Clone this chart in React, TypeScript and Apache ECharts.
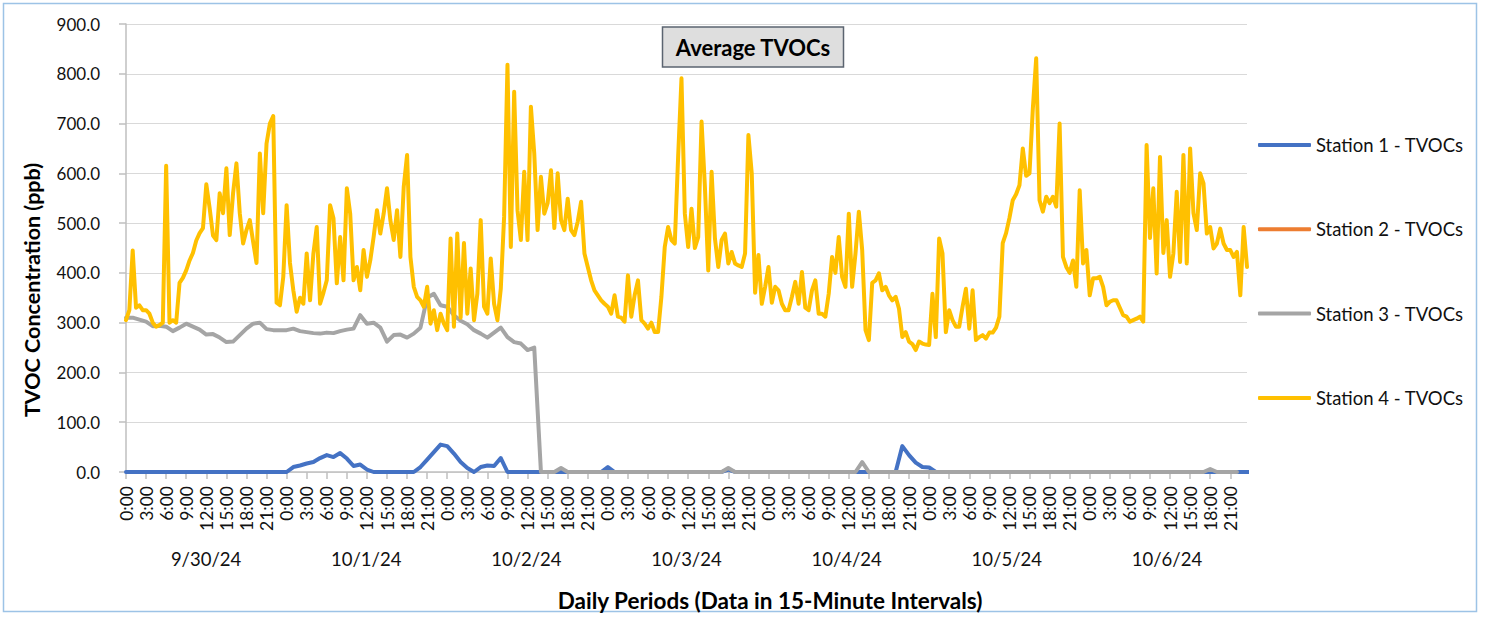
import React, { useEffect, useRef } from "react";
import * as echarts from "echarts";

// Date groups (one per day)
const dates = ["9/30/24", "10/1/24", "10/2/24", "10/3/24", "10/4/24", "10/5/24", "10/6/24"];
const seriesNames = ["Station 1 - TVOCs", "Station 2 - TVOCs", "Station 3 - TVOCs", "Station 4 - TVOCs"];
const colors = ["#4472C4", "#ED7D31", "#A5A5A5", "#FFC000"];

// Station 4 (half-hourly readings, ppb) — 48 per day
const s4d1 = [305, 325, 445, 330, 335, 325, 325, 318, 300, 292, 295, 300, 615, 300, 305, 300, 380, 390, 405, 425, 440, 465, 480, 490, 578, 530, 475, 466, 560, 520, 610, 476, 560, 620, 520, 459, 486, 506, 462, 420, 640, 520, 660, 700, 715, 340, 335, 392];
const s4d2 = [536, 420, 365, 322, 350, 338, 439, 345, 439, 492, 338, 360, 385, 536, 510, 379, 472, 385, 570, 519, 385, 412, 365, 446, 392, 425, 472, 526, 479, 519, 570, 506, 466, 526, 432, 573, 637, 432, 372, 352, 345, 332, 372, 298, 325, 285, 318, 298];
const s4d3 = [285, 469, 292, 479, 310, 460, 318, 409, 305, 358, 506, 332, 318, 429, 338, 305, 368, 513, 818, 452, 764, 526, 466, 603, 466, 734, 640, 486, 593, 519, 540, 606, 490, 600, 506, 486, 549, 486, 476, 503, 543, 439, 412, 385, 365, 355, 345, 338];
const s4d4 = [332, 318, 355, 312, 310, 302, 395, 312, 355, 385, 305, 298, 288, 300, 281, 281, 352, 452, 492, 466, 459, 633, 791, 519, 452, 529, 450, 472, 704, 573, 405, 603, 469, 412, 466, 479, 419, 442, 419, 415, 412, 439, 677, 600, 360, 436, 338, 372];
const s4d5 = [412, 340, 372, 365, 338, 325, 325, 352, 382, 338, 402, 330, 325, 365, 385, 318, 318, 312, 358, 432, 400, 472, 392, 372, 519, 372, 439, 523, 446, 285, 265, 380, 385, 399, 365, 372, 355, 345, 352, 328, 271, 281, 262, 257, 245, 262, 258, 256];
const s4d6 = [255, 358, 271, 469, 439, 281, 325, 305, 292, 292, 332, 368, 288, 365, 265, 271, 275, 268, 280, 280, 290, 312, 460, 480, 510, 546, 558, 576, 650, 595, 600, 730, 831, 546, 523, 553, 540, 553, 533, 700, 432, 412, 400, 425, 372, 566, 419, 446];
const s4d7 = [355, 389, 389, 392, 372, 335, 342, 345, 345, 330, 315, 312, 302, 305, 308, 312, 302, 657, 470, 570, 399, 633, 440, 506, 392, 439, 563, 422, 637, 419, 650, 520, 486, 600, 580, 479, 492, 449, 459, 489, 459, 446, 446, 432, 442, 355, 492, 412];

// Station 3 (hourly readings, ppb) — 24 per day
const s3d1 = [310, 310, 306, 302, 293, 294, 292, 283, 290, 298, 292, 286, 276, 277, 270, 261, 262, 275, 288, 298, 300, 287, 285, 285];
const s3d2 = [285, 288, 283, 281, 279, 278, 280, 279, 283, 286, 288, 315, 298, 300, 290, 262, 275, 276, 270, 278, 290, 350, 358, 335];
const s3d3 = [332, 315, 304, 297, 285, 278, 270, 280, 290, 271, 261, 258, 245, 250, 0, 0, 0, 8, 0, 0, 0, 0, 0, 0];
const s3d4 = [0, 0, 0, 0, 0, 0, 0, 0, 0, 0, 0, 0, 0, 0, 0, 0, 0, 0, 8, 0, 0, 0, 0, 0];
const s3d5 = [0, 0, 0, 0, 0, 0, 0, 0, 0, 0, 0, 0, 0, 0, 20, 0, 0, 0, 0, 0, 0, 0, 0, 0];
const s3d6 = [0, 0, 0, 0, 0, 0, 0, 0, 0, 0, 0, 0, 0, 0, 0, 0, 0, 0, 0, 0, 0, 0, 0, 0];
const s3d7 = [0, 0, 0, 0, 0, 0, 0, 0, 0, 0, 0, 0, 0, 0, 0, 0, 0, 0, 6, 0, 0, 0, 0, null];

// Station 1 (hourly readings, ppb)
const s1d1 = [0, 0, 0, 0, 0, 0, 0, 0, 0, 0, 0, 0, 0, 0, 0, 0, 0, 0, 0, 0, 0, 0, 0, 0];
const s1d2 = [0, 10, 13, 17, 20, 28, 34, 30, 38, 27, 12, 15, 5, 0, 0, 0, 0, 0, 0, 0, 10, 25, 40, 55];
const s1d3 = [52, 37, 20, 8, 0, 10, 13, 12, 28, 0, 0, 0, 0, 0, 0, 0, 0, 0, 0, 0, 0, 0, 0, 0];
const s1d4 = [10, 0, 0, 0, 0, 0, 0, 0, 0, 0, 0, 0, 0, 0, 0, 0, 0, 0, 5, 0, 0, 0, 0, 0];
const s1d5 = [0, 0, 0, 0, 0, 0, 0, 0, 0, 0, 0, 0, 0, 0, 0, 0, 0, 0, 0, 0, 52, 34, 19, 10];
const s1d6 = [9, 0, 0, 0, 0, 0, 0, 0, 0, 0, 0, 0, 0, 0, 0, 0, 0, 0, 0, 0, 0, 0, 0, 0];
const s1d7 = [0, 0, 0, 0, 0, 0, 0, 0, 0, 0, 0, 0, 0, 0, 0, 0, 0, 0, 0, 0, 0, 0, 0, 0, 0];

// Station 2: no readings
const s2: (number | null)[] = [];

const yTicks = { min: 0, max: 900, interval: 100 };
const xTickHours = 3;

const FONT = 'Lato, "Noto Sans", sans-serif';

// values sampled every `step` hours -> [hour, value]
function toPairs(vals: (number | null)[], step: number) {
  return vals.map((v, i) => [i * step, v]);
}

export default function App() {
  const ref = useRef<HTMLDivElement>(null);

  useEffect(() => {
    if (!ref.current) return;
    const chart = echarts.init(ref.current, undefined, { renderer: "svg" });
    const s1 = [...s1d1, ...s1d2, ...s1d3, ...s1d4, ...s1d5, ...s1d6, ...s1d7];
    const s3 = [...s3d1, ...s3d2, ...s3d3, ...s3d4, ...s3d5, ...s3d6, ...s3d7];
    const s4 = [...s4d1, ...s4d2, ...s4d3, ...s4d4, ...s4d5, ...s4d6, ...s4d7];
    const lastHour = dates.length * 24 - 0.5;
    const data = [toPairs(s1, 1), toPairs(s2, 1), toPairs(s3, 1), toPairs(s4, 0.5)];

    chart.setOption({
      animation: false,
      backgroundColor: "#ffffff",
      textStyle: { fontFamily: FONT },
      grid: {
        left: 126,
        right: 239,
        top: 24,
        bottom: 145,
        outerBoundsMode: "none",
      },
      legend: {
        orient: "vertical",
        left: 1258,
        top: 135,
        padding: 0,
        icon: "roundRect",
        itemWidth: 53,
        itemHeight: 4,
        itemGap: 64.3,
        selectedMode: false,
        textStyle: { fontSize: 18.5, color: "#111111", fontFamily: FONT, lineHeight: 20 },
        data: seriesNames,
      },
      xAxis: [
        {
          type: "value",
          min: 0,
          max: lastHour,
          interval: xTickHours,
          axisLine: { show: true, lineStyle: { color: "#BFBFBF", width: 1.5 } },
          axisTick: { show: true, length: 7, lineStyle: { color: "#BFBFBF", width: 1.5 } },
          splitLine: { show: false },
          axisLabel: {
            rotate: 90,
            margin: 14,
            fontSize: 17.5,
            color: "#111111",
            fontFamily: FONT,
            showMaxLabel: false,
            formatter: (v: number) => `${Math.round(v) % 24}:00`,
          },
        },
        {
          type: "category",
          position: "bottom",
          data: dates,
          boundaryGap: true,
          axisLine: { show: false },
          axisTick: { show: false },
          splitLine: { show: false },
          axisLabel: { margin: 77, fontSize: 18.5, color: "#111111", fontFamily: FONT, interval: 0 },
        },
      ],
      yAxis: {
        type: "value",
        min: yTicks.min,
        max: yTicks.max,
        interval: yTicks.interval,
        axisLine: { show: true, lineStyle: { color: "#BFBFBF", width: 1.5 } },
        axisTick: { show: true, length: 7, lineStyle: { color: "#BFBFBF", width: 1.5 } },
        splitLine: { show: true, lineStyle: { color: "#D9D9D9", width: 1.2 } },
        axisLabel: {
          margin: 26,
          fontSize: 17,
          color: "#111111",
          fontFamily: FONT,
          formatter: (v: number) => v.toFixed(1),
        },
      },
      series: seriesNames.map((name, i) => ({
        name,
        type: "line",
        xAxisIndex: 0,
        data: data[i],
        showSymbol: false,
        symbol: "none",
        connectNulls: false,
        silent: true,
        color: colors[i],
        itemStyle: { color: colors[i] },
        lineStyle: { width: 4, color: colors[i], cap: "round", join: "round" },
        emphasis: { disabled: true },
        z: 2 + i,
      })),
      graphic: [
        {
          type: "rect",
          silent: true,
          z: 100,
          shape: { x: 3.5, y: 3.5, width: 1473, height: 608 },
          style: { fill: "none", stroke: "#9DC3E6", lineWidth: 1.5 },
        },
        {
          type: "rect",
          silent: true,
          z: 100,
          shape: { x: 662.5, y: 27, width: 181, height: 40 },
          style: { fill: "#DEDEDE", stroke: "#5B6470", lineWidth: 1.5 },
        },
        {
          type: "text",
          silent: true,
          z: 101,
          x: 753,
          y: 47,
          style: {
            text: "Average TVOCs",
            fontSize: 22,
            fontWeight: "bold",
            fontFamily: FONT,
            fill: "#000000",
            align: "center",
            verticalAlign: "middle",
          },
        },
        {
          type: "text",
          silent: true,
          z: 101,
          x: 32,
          y: 290,
          rotation: Math.PI / 2,
          style: {
            text: "TVOC Concentration (ppb)",
            fontSize: 21.5,
            fontWeight: "bold",
            fontFamily: FONT,
            fill: "#000000",
            align: "center",
            verticalAlign: "middle",
          },
        },
        {
          type: "text",
          silent: true,
          z: 101,
          x: 770,
          y: 600,
          style: {
            text: "Daily Periods (Data in 15-Minute Intervals)",
            fontSize: 22.5,
            fontWeight: "bold",
            fontFamily: FONT,
            fill: "#000000",
            align: "center",
            verticalAlign: "middle",
          },
        },
      ],
    });

    return () => chart.dispose();
  }, []);

  return (
    <div
      ref={ref}
      style={{ position: "fixed", left: 0, top: 0, width: 1486, height: 617, background: "#fff" }}
    />
  );
}
